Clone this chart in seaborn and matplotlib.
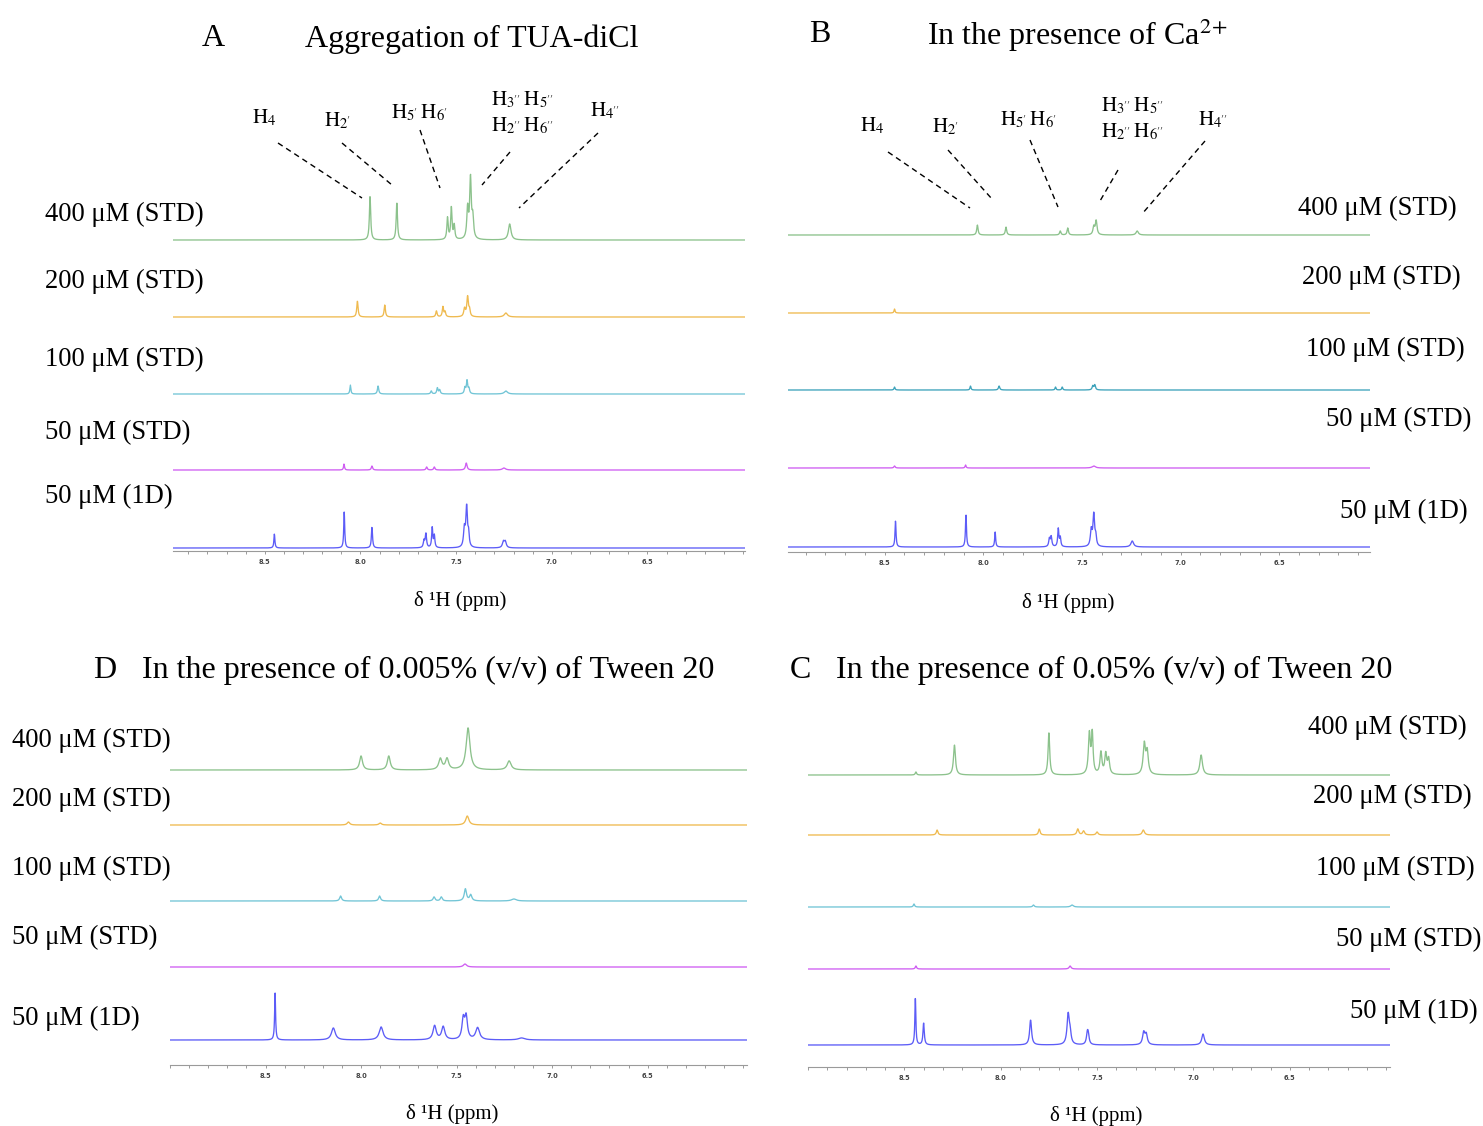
import numpy as np
import pandas as pd
import matplotlib
matplotlib.use("Agg")
import matplotlib.pyplot as plt
from matplotlib.lines import Line2D
from matplotlib.ticker import MultipleLocator, FixedLocator, FormatStrFormatter
import seaborn as sns

# ---------------------------------------------------------------
# Peak lists: (chemical shift in ppm, height, half-width in ppm)
# ---------------------------------------------------------------
TRACE_NAMES = ["400 μM (STD)", "200 μM (STD)", "100 μM (STD)", "50 μM (STD)", "50 μM (1D)"]
TICK_PPM = [8.5, 8.0, 7.5, 7.0, 6.5]

# A: aggregation of TUA-diCl
A_STD400 = [(7.95, 44, 0.004), (7.81, 37, 0.004), (7.545, 22, 0.004), (7.525, 32, 0.004),
            (7.51, 14, 0.004), (7.44, 30, 0.005), (7.425, 60, 0.005), (7.413, 20, 0.005),
            (7.22, 16, 0.008)]
A_STD200 = [(8.016, 16, 0.004), (7.873, 12, 0.004), (7.603, 6, 0.004), (7.569, 10, 0.004),
            (7.558, 5, 0.004), (7.456, 8, 0.005), (7.44, 20, 0.005), (7.43, 6, 0.004),
            (7.24, 4, 0.01)]
A_STD100 = [(8.053, 9, 0.003), (7.908, 8, 0.004), (7.63, 3, 0.004), (7.598, 6, 0.004),
            (7.586, 4, 0.004), (7.454, 6, 0.004), (7.443, 13, 0.004), (7.433, 5, 0.004),
            (7.24, 3, 0.01)]
A_STD50 = [(8.086, 6, 0.003), (7.94, 4, 0.004), (7.654, 3, 0.004), (7.614, 3, 0.004),
           (7.447, 7, 0.005), (7.25, 2, 0.01)]
A_1D = [(8.45, 14, 0.003), (8.085, 36, 0.003), (7.94, 21, 0.0035), (7.668, 7, 0.004),
        (7.658, 14, 0.004), (7.625, 20, 0.0035), (7.614, 12, 0.0035), (7.457, 18, 0.005),
        (7.445, 40, 0.005), (7.435, 12, 0.004), (7.253, 6, 0.006), (7.243, 6, 0.006)]

# B: in the presence of Ca2+
B_STD400 = [(8.03, 10, 0.004), (7.885, 8, 0.004), (7.61, 4, 0.004), (7.572, 7, 0.004),
            (7.44, 8, 0.005), (7.428, 14, 0.005), (7.22, 4, 0.007)]
B_STD200 = [(8.45, 4, 0.003)]
B_STD100 = [(8.45, 3, 0.003), (8.065, 4, 0.003), (7.92, 4, 0.004), (7.634, 3, 0.003),
            (7.60, 3, 0.003), (7.445, 4, 0.004), (7.435, 5, 0.004)]
B_STD50 = [(8.45, 2, 0.004), (8.09, 3, 0.003), (7.44, 2, 0.01)]
B_1D = [(8.445, 26, 0.003), (8.088, 33, 0.003), (7.94, 15, 0.003), (7.665, 8, 0.004),
        (7.656, 10, 0.004), (7.62, 18, 0.0035), (7.61, 9, 0.0035), (7.453, 16, 0.005),
        (7.44, 32, 0.005), (7.43, 9, 0.004), (7.245, 6, 0.008)]

# D: 0.005 % (v/v) Tween 20
D_STD400 = [(8.0, 14, 0.009), (7.855, 14, 0.009), (7.585, 11, 0.01), (7.55, 11, 0.01),
            (7.44, 42, 0.012), (7.225, 9, 0.012)]
D_STD200 = [(8.066, 3, 0.008), (7.90, 2, 0.008), (7.444, 9, 0.01)]
D_STD100 = [(8.107, 5, 0.006), (7.903, 5, 0.006), (7.618, 4, 0.006), (7.58, 4, 0.006),
            (7.454, 12, 0.007), (7.426, 6, 0.007), (7.2, 2, 0.015)]
D_STD50 = [(7.456, 3, 0.01)]
D_1D = [(8.45, 47, 0.003), (8.145, 12, 0.012), (7.895, 13, 0.012), (7.615, 14, 0.01),
        (7.57, 13, 0.01), (7.465, 20, 0.008), (7.45, 22, 0.008), (7.39, 12, 0.012),
        (7.16, 2, 0.02)]

# C: 0.05 % (v/v) Tween 20
C_STD400 = [(8.44, 3, 0.004), (8.24, 30, 0.006), (7.75, 42, 0.005), (7.54, 40, 0.006),
            (7.525, 40, 0.005), (7.48, 22, 0.006), (7.455, 20, 0.006), (7.44, 15, 0.006),
            (7.255, 30, 0.007), (7.24, 22, 0.007), (6.96, 20, 0.008)]
C_STD200 = [(8.33, 5, 0.005), (7.80, 6, 0.005), (7.60, 6, 0.006), (7.57, 4, 0.006),
            (7.50, 3, 0.006), (7.26, 5, 0.007)]
C_STD100 = [(8.45, 3, 0.004), (7.83, 2, 0.005), (7.63, 2, 0.008)]
C_STD50 = [(8.44, 3, 0.004), (7.64, 3, 0.006)]
C_1D = [(8.443, 48, 0.003), (8.40, 22, 0.004), (7.845, 25, 0.006), (7.65, 30, 0.007),
        (7.64, 10, 0.006), (7.55, 12, 0.006), (7.545, 6, 0.005), (7.258, 12, 0.007),
        (7.245, 10, 0.007), (6.95, 11, 0.008)]

# ---------------------------------------------------------------
W, H = 1483, 1126
sns.set_style("white")
plt.rcParams["font.family"] = ["Liberation Serif", "DejaVu Serif"]
plt.rcParams["mathtext.fontset"] = "stix"
plt.rcParams["text.color"] = "black"

fig = plt.figure(figsize=(W / 100, H / 100), dpi=100)

GREEN, ORANGE, CYAN, MAGENTA, BLUE = "#8cc28c", "#efba4f", "#72c5d6", "#cf5ef2", "#5c5cf7"
CYAN_DARK = "#3ea3bb"


def fx(x):
    return x / W


def fy(y):
    return 1 - y / H


def lineshape(grid, peaks):
    y = np.zeros_like(grid)
    for c, h, g in peaks:
        y += h * g ** 2 / ((grid - c) ** 2 + g ** 2)
    return y


def panel(left, right, spine, top, xlim, bases, traces, colors):
    ax = fig.add_axes([fx(left), fy(spine), (right - left) / W, (spine - top) / H])
    ax.patch.set_alpha(0)
    grid = np.linspace(xlim[0], xlim[1], 2400)
    frames = []
    for name, peaks, base in zip(TRACE_NAMES, traces, bases):
        frames.append(pd.DataFrame({"ppm": grid,
                                    "signal": (spine - base) + lineshape(grid, peaks),
                                    "trace": name}))
    df = pd.concat(frames, ignore_index=True)
    sns.lineplot(data=df, x="ppm", y="signal", hue="trace", palette=dict(zip(TRACE_NAMES, colors)),
                 estimator=None, sort=False, legend=False, lw=0.95, ax=ax)
    ax.set_xlim(*xlim)
    ax.set_ylim(0, spine - top)
    for s in ["top", "left", "right"]:
        ax.spines[s].set_visible(False)
    ax.spines["bottom"].set_color("#9a9a9a")
    ax.spines["bottom"].set_linewidth(0.8)
    ax.set_yticks([])
    ax.xaxis.set_major_locator(FixedLocator(TICK_PPM))
    ax.xaxis.set_minor_locator(MultipleLocator(0.1))
    ax.xaxis.set_major_formatter(FormatStrFormatter("%.1f"))
    ax.tick_params(axis="x", which="both", direction="out", length=2.5, width=0.6,
                   color="#8a8a8a", pad=3, labelsize=4.8, labelcolor="#444444", bottom=True)
    for lbl in ax.get_xticklabels():
        lbl.set_fontweight("bold")
        lbl.set_family("DejaVu Sans")
    ax.set_xlabel("")
    ax.set_ylabel("")
    return ax


panel(173, 745, 551, 150, (8.98, 5.99), [240, 317, 394, 470, 548],
      [A_STD400, A_STD200, A_STD100, A_STD50, A_1D], [GREEN, ORANGE, CYAN, MAGENTA, BLUE])
panel(788, 1370, 552, 150, (8.99, 6.04), [235, 313, 390, 468, 547],
      [B_STD400, B_STD200, B_STD100, B_STD50, B_1D], [GREEN, ORANGE, CYAN_DARK, MAGENTA, BLUE])
panel(170, 747, 1065, 690, (9.0, 5.98), [770, 825, 901, 967, 1040],
      [D_STD400, D_STD200, D_STD100, D_STD50, D_1D], [GREEN, ORANGE, CYAN, MAGENTA, BLUE])
panel(808, 1390, 1067, 690, (9.0, 5.98), [775, 835, 907, 969, 1045],
      [C_STD400, C_STD200, C_STD100, C_STD50, C_1D], [GREEN, ORANGE, CYAN, MAGENTA, BLUE])

# ---------------------------------------------------------------
# Panel titles
TSIZE = 23
fig.text(fx(213), fy(39), "A", ha="center", va="center", fontsize=TSIZE)
fig.text(fx(305), fy(39), "Aggregation of TUA-diCl", ha="left", va="center", fontsize=TSIZE)
fig.text(fx(820), fy(35), "B", ha="center", va="center", fontsize=TSIZE)
fig.text(fx(927), fy(35), r"In the presence of Ca$^{2\!+}$", ha="left", va="center", fontsize=TSIZE)
fig.text(fx(105), fy(670), "D", ha="center", va="center", fontsize=TSIZE)
fig.text(fx(142), fy(670), "In the presence of 0.005% (v/v) of Tween 20", ha="left", va="center",
         fontsize=TSIZE)
fig.text(fx(800), fy(670), "C", ha="center", va="center", fontsize=TSIZE)
fig.text(fx(836), fy(670), "In the presence of 0.05% (v/v) of Tween 20", ha="left", va="center",
         fontsize=TSIZE)

# Trace labels
LSIZE = 19.2
label_pos = {
    "A": [(45, 214), (45, 281), (45, 359), (45, 432), (45, 496)],
    "B": [(1298, 208), (1302, 277), (1306, 349), (1326, 419), (1340, 511)],
    "D": [(12, 740), (12, 799), (12, 868), (12, 937), (12, 1018)],
    "C": [(1308, 727), (1313, 796), (1316, 868), (1336, 939), (1350, 1011)],
}
for pos in label_pos.values():
    for name, (x, y) in zip(TRACE_NAMES, pos):
        fig.text(fx(x), fy(y), name, ha="left", va="center", fontsize=LSIZE)

# Axis titles
for x, y in [(460, 601), (1068, 603), (452, 1114), (1096, 1116)]:
    fig.text(fx(x), fy(y), "δ ¹H (ppm)", ha="center", va="center", fontsize=15)

# Proton assignments with leader lines (panels A and B)
ASIZE = 15
assign = [
    (r"$\mathrm{H}_{4}$", 264, 118, 872, 126),
    (r"$\mathrm{H}_{2'}$", 338, 121, 946, 127),
    (r"$\mathrm{H}_{5'}\,\mathrm{H}_{6'}$", 420, 113, 1029, 120),
    (r"$\mathrm{H}_{3''}\,\mathrm{H}_{5''}$", 522, 100, 1132, 106),
    (r"$\mathrm{H}_{2''}\,\mathrm{H}_{6''}$", 522, 126, 1132, 132),
    (r"$\mathrm{H}_{4''}$", 605, 111, 1213, 120),
]
for txt, xa, ya, xb, yb in assign:
    fig.text(fx(xa), fy(ya), txt, ha="center", va="center", fontsize=ASIZE)
    fig.text(fx(xb), fy(yb), txt, ha="center", va="center", fontsize=ASIZE)

leaders = [
    [(278, 143, 362, 198), (342, 143, 392, 185), (420, 130, 440, 188), (510, 152, 482, 185),
     (598, 133, 519, 208)],
    [(888, 152, 970, 208), (948, 150, 992, 199), (1030, 140, 1058, 207), (1118, 170, 1100, 201),
     (1205, 141, 1142, 214)],
]
for group in leaders:
    for x1, y1, x2, y2 in group:
        fig.add_artist(Line2D([fx(x1), fx(x2)], [fy(y1), fy(y2)], transform=fig.transFigure,
                              color="black", lw=1.0, linestyle=(0, (4, 3))))

fig.savefig("out.png", dpi=100)
